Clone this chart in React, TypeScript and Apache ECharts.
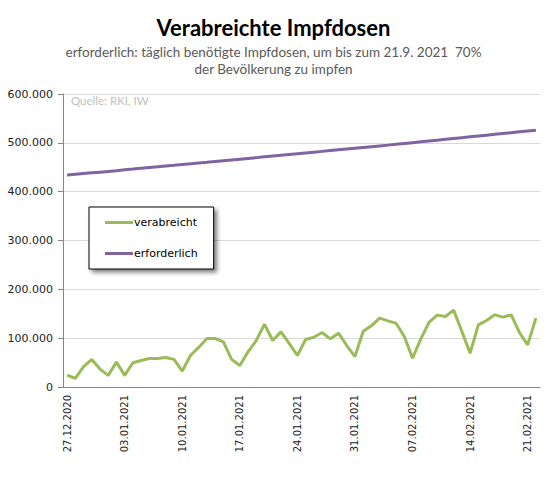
import { useRef, useEffect } from "react";
import * as echarts from "echarts";

// one category per day, 27.12.2020 .. 22.02.2021
const dates = [
  "27.12.2020", "28.12.2020", "29.12.2020", "30.12.2020", "31.12.2020",
  "01.01.2021", "02.01.2021", "03.01.2021", "04.01.2021", "05.01.2021",
  "06.01.2021", "07.01.2021", "08.01.2021", "09.01.2021", "10.01.2021",
  "11.01.2021", "12.01.2021", "13.01.2021", "14.01.2021", "15.01.2021",
  "16.01.2021", "17.01.2021", "18.01.2021", "19.01.2021", "20.01.2021",
  "21.01.2021", "22.01.2021", "23.01.2021", "24.01.2021", "25.01.2021",
  "26.01.2021", "27.01.2021", "28.01.2021", "29.01.2021", "30.01.2021",
  "31.01.2021", "01.02.2021", "02.02.2021", "03.02.2021", "04.02.2021",
  "05.02.2021", "06.02.2021", "07.02.2021", "08.02.2021", "09.02.2021",
  "10.02.2021", "11.02.2021", "12.02.2021", "13.02.2021", "14.02.2021",
  "15.02.2021", "16.02.2021", "17.02.2021", "18.02.2021", "19.02.2021",
  "20.02.2021", "21.02.2021", "22.02.2021",
];

const verabreicht = [
  24500, 17700, 41500, 56500, 36700, 23800, 51000, 23800, 49700, 54400,
  58500, 58500, 60500, 56500, 32700, 64600, 81000, 99300, 99300, 92500,
  56500, 44200, 72100, 95200, 128600, 95200, 112900, 89100, 64600, 97300,
  102000, 111600, 98600, 110200, 84900, 62300, 114300, 125300, 141000, 135500,
  130700, 103400, 58900, 97900, 132100, 147200, 144400, 157400, 113600, 69100,
  127300, 136200, 147800, 143100, 147800, 111600, 86200, 141000,
];

const erforderlich = [
  434000, 435500, 437000, 438500, 440000, 441500, 443000, 444700, 446200, 447800,
  449300, 450800, 452400, 453900, 455500, 457000, 458600, 460100, 461700, 463300,
  464900, 466500, 468100, 469700, 471300, 472900, 474500, 476100, 477700, 479300,
  480900, 482500, 484100, 485700, 487300, 488900, 490500, 492100, 493700, 495300,
  497000, 498700, 500400, 502100, 503800, 505500, 507200, 508900, 510600, 512300,
  514000, 515700, 517400, 519100, 520800, 522500, 524200, 525900,
];

const seriesNames = ["verabreicht", "erforderlich"];

const fmt = (v: number) => String(v).replace(/\B(?=(\d{3})+(?!\d))/g, ".");

const App = () => {
  const chartRef = useRef<HTMLDivElement>(null);
  useEffect(() => {
    const chart = echarts.init(chartRef.current, undefined, { renderer: "svg" });
    const axisGrey = "#868686";
    chart.setOption({
      animation: false,
      title: {
        left: "center",
        top: 11,
        text: "Verabreichte Impfdosen",
        subtext:
          "erforderlich: täglich benötigte Impfdosen, um bis zum 21.9. 2021  70%\nder Bevölkerung zu impfen",
        itemGap: 5,
        textStyle: { fontFamily: "Lato", fontWeight: "bold", fontSize: 22, color: "#000" },
        subtextStyle: { fontFamily: "Lato", fontSize: 13.5, lineHeight: 17, color: "#595959" },
      },
      graphic: [
        {
          type: "text",
          left: 71,
          top: 94,
          style: { text: "Quelle: RKI, IW", fontFamily: "Lato", fontSize: 11.5, fill: "#bfbfbf" },
        },
      ],
      legend: {
        left: 89,
        top: 207,
        orient: "vertical",
        data: seriesNames,
        icon: "rect",
        itemWidth: 28,
        itemHeight: 3,
        itemGap: 20,
        padding: [10, 16, 10, 16],
        borderColor: "#000",
        borderWidth: 1,
        backgroundColor: "#fff",
        shadowColor: "rgba(0,0,0,0.5)",
        shadowBlur: 4,
        shadowOffsetX: 3,
        shadowOffsetY: 3,
        textStyle: { fontFamily: "DejaVu Sans", fontSize: 11, color: "#000", padding: [0, 0, 0, -4] },
      },
      grid: { left: 63, right: 7, top: 94, bottom: 91 },
      xAxis: {
        type: "category",
        data: dates,
        boundaryGap: true,
        axisLine: { lineStyle: { color: axisGrey } },
        axisTick: { interval: 6, length: 5, lineStyle: { color: axisGrey } },
        axisLabel: {
          interval: 6,
          rotate: 90,
          margin: 8,
          fontFamily: "DejaVu Sans",
          fontSize: 10,
          color: "#222",
        },
      },
      yAxis: {
        type: "value",
        min: 0,
        max: 600000,
        interval: 100000,
        axisLine: { show: true, lineStyle: { color: axisGrey } },
        axisTick: { show: true, length: 5, lineStyle: { color: axisGrey } },
        axisLabel: {
          margin: 10,
          fontFamily: "DejaVu Sans",
          fontSize: 11,
          color: "#222",
          formatter: (v: number) => fmt(v),
        },
        splitLine: { lineStyle: { color: "#d9d9d9" } },
      },
      series: [
        {
          name: seriesNames[0],
          type: "line",
          data: verabreicht,
          symbol: "none",
          lineStyle: { width: 3, color: "#9bbb59" },
          itemStyle: { color: "#9bbb59" },
        },
        {
          name: seriesNames[1],
          type: "line",
          data: erforderlich,
          symbol: "none",
          lineStyle: { width: 3, color: "#8064a2" },
          itemStyle: { color: "#8064a2" },
        },
      ],
    });
    return () => {
      chart.dispose();
    };
  }, []);
  return (
    <div
      ref={chartRef}
      style={{ position: "fixed", left: 0, top: 0, width: 547, height: 478, background: "#fff" }}
    />
  );
};

export default App;
